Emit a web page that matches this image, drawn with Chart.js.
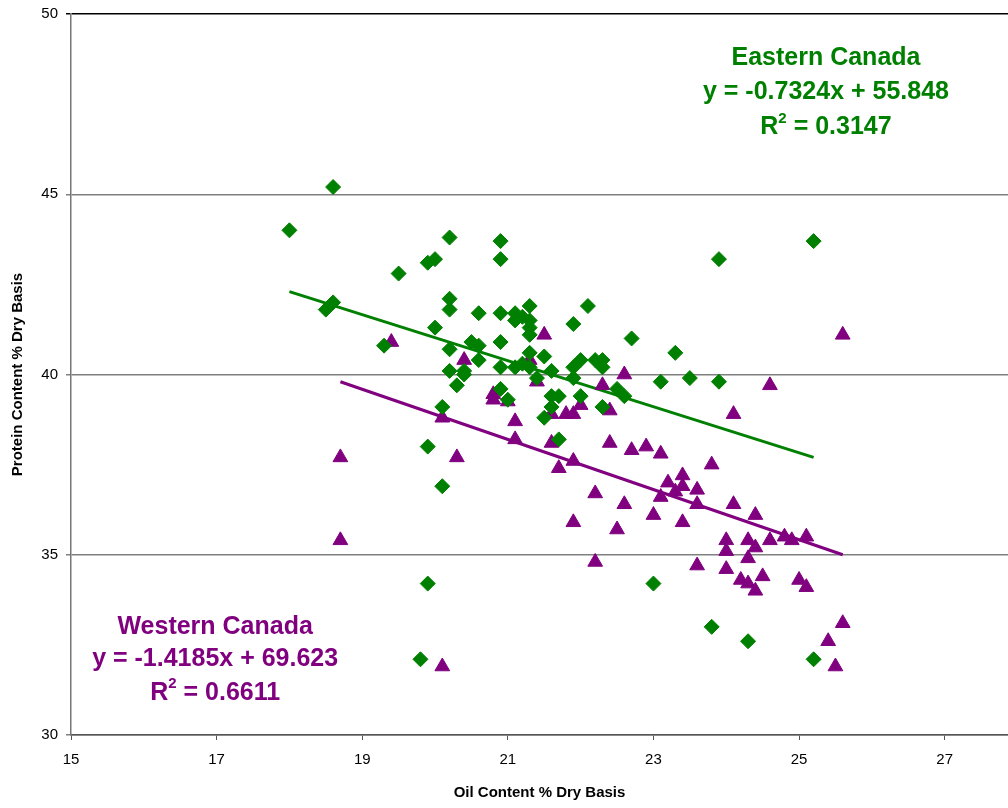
<!DOCTYPE html>
<html>
<head>
<meta charset="utf-8">
<script src="https://cdn.jsdelivr.net/npm/chart.js@4/dist/chart.umd.min.js"></script>
<style>
  body { margin: 0; background: #fff; }
  #wrap { width: 1008px; height: 808px; }
</style>
</head>
<body>
<div id="wrap"><canvas id="proteinChart" width="1008" height="808"></canvas></div>
<script>
/* Eastern Canada samples: oil %, protein % */
var eastOil = [18.0, 18.6, 18.5, 18.6, 19.5, 19.3, 19.9, 20.0, 20.2, 20.2, 20.2, 20.0, 20.2, 20.2, 20.1, 20.1, 19.9, 19.9, 19.8,
  20.9, 20.9, 20.6, 20.9, 21.1, 21.1, 21.2, 21.3, 21.3, 21.3, 21.3, 22.1, 21.9, 22.7, 20.5, 20.6, 20.9, 20.6, 20.4, 20.4, 20.3,
  20.9, 20.9, 21.0, 21.1, 21.2, 21.3, 21.3, 21.5, 21.4, 21.6, 21.6, 21.7, 21.6, 21.5, 21.9, 22.0, 21.9, 22.0, 22.2, 22.3, 22.3,
  22.3, 22.5, 22.6, 21.7, 23.9, 25.2, 23.3, 23.1, 23.5, 23.9, 23.0, 23.8, 24.3, 25.2];
var eastProtein = [44.0, 45.2, 41.8, 42.0, 42.8, 40.8, 43.1, 43.2, 43.8, 42.1, 41.8, 41.3, 40.7, 40.1, 39.1, 36.9, 38.0, 34.2, 32.1,
  43.7, 43.2, 41.7, 41.7, 41.7, 41.5, 41.6, 41.9, 41.5, 41.3, 41.1, 41.9, 41.4, 41.0, 40.9, 40.8, 40.9, 40.4, 40.1, 40.0, 39.7,
  40.2, 39.6, 39.3, 40.2, 40.3, 40.6, 40.2, 40.5, 39.9, 40.1, 39.4, 39.4, 39.1, 38.8, 40.2, 40.4, 39.9, 39.4, 40.4, 40.4, 40.2,
  39.1, 39.6, 39.4, 38.2, 43.2, 43.7, 40.6, 39.8, 39.9, 39.8, 34.2, 33.0, 32.6, 32.1];

/* Western Canada samples */
var westOil = [18.7, 18.7, 19.4, 20.1, 20.3, 20.1, 20.4, 20.8, 20.8, 21.0, 21.1, 21.1, 21.4, 21.5, 21.3, 21.6, 21.8, 21.9, 22.0,
  22.3, 22.4, 22.6, 21.6, 22.4, 22.7, 21.7, 21.9, 22.2, 22.6, 21.9, 22.5, 22.2, 23.6, 24.6, 24.1, 25.6, 22.9, 23.1, 23.8, 23.2,
  23.4, 23.4, 23.3, 23.1, 23.6, 23.6, 23.0, 23.4, 24.1, 24.4, 24.6, 24.8, 24.9, 25.1, 24.0, 24.3, 24.4, 24.0, 24.3, 24.0, 24.2,
  24.3, 24.4, 24.5, 25.0, 25.1, 25.6, 25.4, 25.5];
var westProtein = [37.7, 35.4, 40.9, 38.8, 37.7, 31.9, 40.4, 39.45, 39.3, 39.25, 38.7, 38.2, 39.8, 41.1, 40.4, 38.9, 38.9, 38.9, 39.15,
  39.7, 39.0, 40.0, 38.1, 38.1, 37.9, 37.4, 37.6, 36.7, 36.4, 35.9, 35.7, 34.8, 34.7, 39.7, 38.9, 41.1, 38.0, 37.8, 37.5, 37.0,
  37.2, 36.9, 36.75, 36.6, 36.8, 36.4, 36.1, 35.9, 36.4, 36.1, 35.4, 35.5, 35.4, 35.5, 35.4, 35.4, 35.2, 35.1, 34.9, 34.6, 34.3,
  34.2, 34.0, 34.4, 34.3, 34.1, 33.1, 32.6, 31.9];

/* Trend line end points as drawn */
var eastTrendOil = [18.0, 25.2];
var eastTrendProtein = [42.3, 37.7];
var westTrendOil = [18.7, 25.6];
var westTrendProtein = [39.8, 35.0];

/* Axis ticks */
var xTicks = [15, 17, 19, 21, 23, 25, 27];
var yTicks = [30, 35, 40, 45, 50];

/* Labels: text lines and their anchor in data units */
var eastLabel = ["Eastern Canada", "y = -0.7324x + 55.848", "R2 = 0.3147"];
var eastLabelX = 25.37;
var eastLabelY = [48.78, 47.82, 46.85];
var westLabel = ["Western Canada", "y = -1.4185x + 69.623", "R2 = 0.6611"];
var westLabelX = 16.98;
var westLabelY = [32.99, 32.1, 31.17];

var GREEN = "#008000";
var PURPLE = "#800080";

function toPoints(xs, ys) {
	var pts = [];
	for (var i = 0; i < xs.length; i++) {
		pts.push({ x: xs[i], y: ys[i] });
	}
	return pts;
}

// draws "R2" with the 2 as a superscript, centred
function drawLine(ctx, text, cx, cy) {
	var big = "bold 25px Arial, 'Liberation Sans', sans-serif";
	var small = "bold 15px Arial, 'Liberation Sans', sans-serif";
	ctx.textBaseline = "middle";
	ctx.textAlign = "left";
	if (text.indexOf("R2") === 0) {
		var rest = text.substring(2);
		ctx.font = big;
		var wR = ctx.measureText("R").width;
		var wRest = ctx.measureText(rest).width;
		ctx.font = small;
		var w2 = ctx.measureText("2").width;
		var x0 = cx - (wR + w2 + wRest) / 2;
		ctx.font = big;
		ctx.fillText("R", x0, cy);
		ctx.font = small;
		ctx.fillText("2", x0 + wR, cy - 9);
		ctx.font = big;
		ctx.fillText(rest, x0 + wR + w2, cy);
	} else {
		ctx.font = big;
		ctx.textAlign = "center";
		ctx.fillText(text, cx, cy);
	}
}

var labelPlugin = {
	id: "trendLabels",
	afterDraw: function (chart) {
		var ctx = chart.ctx;
		var xs = chart.scales.x;
		var ys = chart.scales.y;
		ctx.save();
		ctx.fillStyle = GREEN;
		for (var i = 0; i < eastLabel.length; i++) {
			drawLine(ctx, eastLabel[i], xs.getPixelForValue(eastLabelX), ys.getPixelForValue(eastLabelY[i]));
		}
		ctx.fillStyle = PURPLE;
		for (var i = 0; i < westLabel.length; i++) {
			drawLine(ctx, westLabel[i], xs.getPixelForValue(westLabelX), ys.getPixelForValue(westLabelY[i]));
		}
		ctx.restore();
	}
};

var ctx = document.getElementById("proteinChart").getContext("2d");
var tickFont = { family: "Arial, 'Liberation Sans', sans-serif", size: 15 };
var titleFont = { family: "Arial, 'Liberation Sans', sans-serif", size: 15, weight: "bold" };

var myChart = new Chart(ctx, {
	type: "scatter",
	data: {
		datasets: [
			{
				label: "Eastern trend",
				data: toPoints(eastTrendOil, eastTrendProtein),
				showLine: true,
				borderColor: GREEN,
				borderWidth: 3,
				pointRadius: 0,
				order: 3
			},
			{
				label: "Western trend",
				data: toPoints(westTrendOil, westTrendProtein),
				showLine: true,
				borderColor: PURPLE,
				borderWidth: 3,
				pointRadius: 0,
				order: 4
			},
			{
				label: "Western Canada",
				data: toPoints(westOil, westProtein),
				pointStyle: "triangle",
				pointRadius: 8.5,
				backgroundColor: PURPLE,
				borderColor: PURPLE,
				borderWidth: 1,
				order: 2
			},
			{
				label: "Eastern Canada",
				data: toPoints(eastOil, eastProtein),
				pointStyle: "rectRot",
				pointRadius: 7.5,
				backgroundColor: GREEN,
				borderColor: GREEN,
				borderWidth: 1,
				order: 1
			}
		]
	},
	options: {
		responsive: false,
		animation: false,
		layout: { autoPadding: false, padding: { top: 14, right: 0, bottom: 0, left: 0 } },
		plugins: {
			legend: { display: false },
			tooltip: { enabled: false }
		},
		scales: {
			x: {
				type: "linear",
				min: 15,
				max: 27.87,
				afterBuildTicks: function (axis) {
					axis.ticks = xTicks.map(function (v) { return { value: v }; });
				},
				afterFit: function (axis) {
					axis.height = 73;
					axis.paddingLeft = 0;
					axis.paddingRight = 0;
				},
				ticks: { color: "#000", font: tickFont, padding: 11, maxRotation: 0 },
				grid: { drawOnChartArea: false, drawTicks: true, tickLength: 5, color: "#555" },
				border: { color: "#555", width: 1.5 },
				title: { display: true, text: "Oil Content % Dry Basis", color: "#000", font: titleFont, padding: { top: 0, bottom: 6 } }
			},
			y: {
				type: "linear",
				min: 30,
				max: 50,
				afterBuildTicks: function (axis) {
					axis.ticks = yTicks.map(function (v) { return { value: v }; });
				},
				afterFit: function (axis) {
					axis.width = 71;
					axis.paddingTop = 0;
					axis.paddingBottom = 0;
				},
				ticks: { color: "#000", font: tickFont, padding: 8 },
				grid: {
					tickLength: 5,
					lineWidth: 1.5,
					color: function (c) { return c.tick && c.tick.value === 50 ? "#000" : "#808080"; }
				},
				border: { color: "#777", width: 1.5 },
				title: { display: true, text: "Protein Content % Dry Basis", color: "#000", font: titleFont, padding: { top: 9, bottom: 0 } }
			}
		}
	},
	plugins: [labelPlugin]
});
</script>
</body>
</html>
